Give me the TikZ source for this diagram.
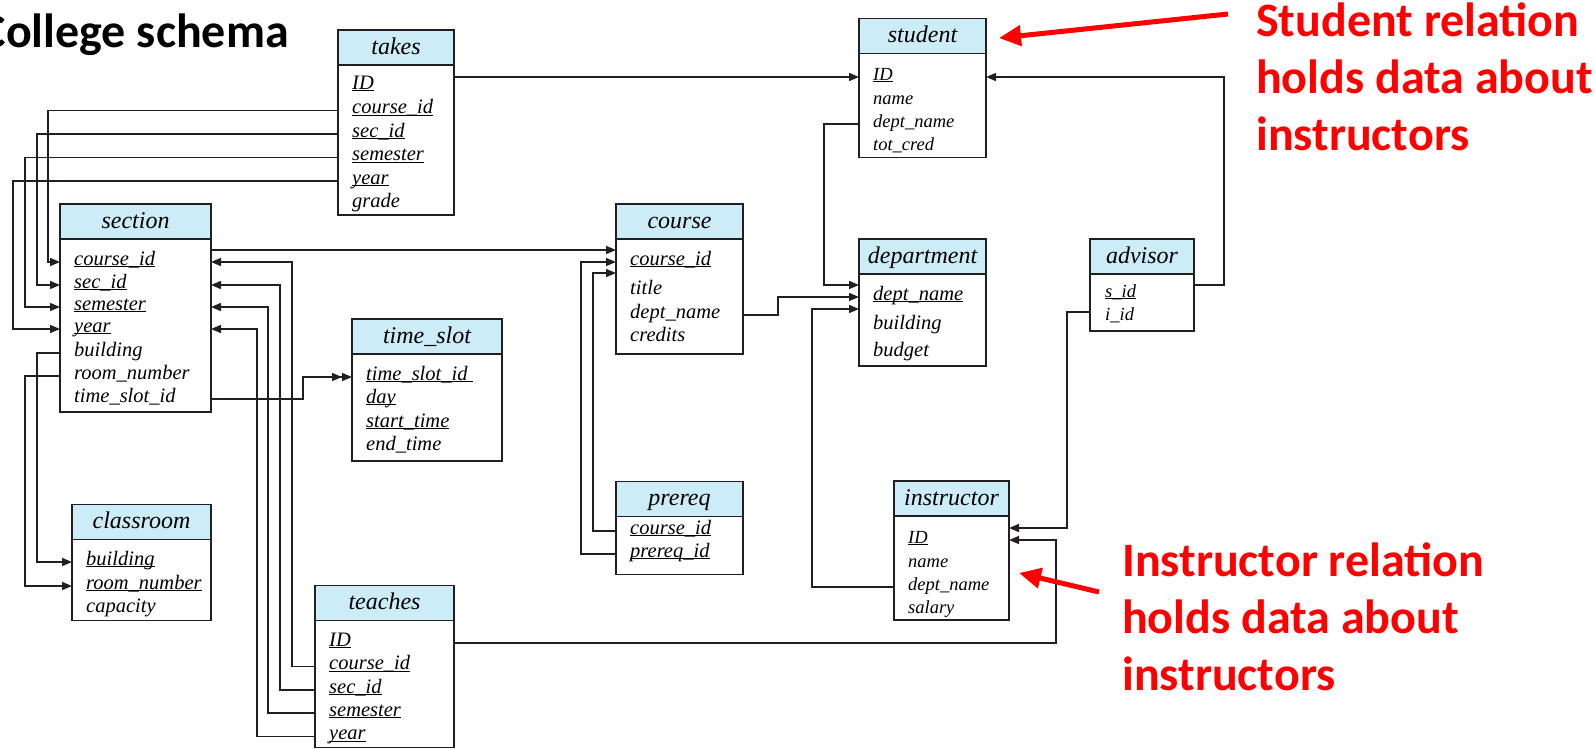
\documentclass[tikz,border=0pt]{standalone}
\usepackage{fontspec}
\setmainfont{Liberation Serif}
\newfontfamily\calibri{Carlito}
\usetikzlibrary{arrows.meta,positioning}
\definecolor{headblue}{RGB}{204,236,248}
\definecolor{boxline}{RGB}{35,31,32}
\newcommand\pk[1]{\underline{\smash{#1}}}

\begin{document}
\begin{tikzpicture}[x=1pt,y=-1pt]
\tikzset{
  relhead/.style={draw=boxline,line width=1.5pt,fill=headblue,minimum height=35pt,inner sep=0pt,outer sep=0pt,text height=17pt,text depth=4pt,font=\fontsize{24}{28}\selectfont\itshape},
  relbody/.style={draw=boxline,line width=1.5pt,inner sep=0pt,outer sep=0pt},
  attr/.style={anchor=west,inner sep=0pt,text height=6pt,text depth=0pt,font=\fontsize{20.5}{24}\selectfont\itshape},
  attrsmall/.style={attr,font=\fontsize{18.5}{22}\selectfont\itshape},
  fk/.style={draw=boxline,line width=1.4pt,-{Triangle[length=10pt,width=8pt]}},
  fkdouble/.style={fk,-{Triangle[length=10pt,width=8pt]Triangle[length=10pt,width=8pt]}},
  title/.style={anchor=base east,inner sep=0pt,font=\calibri\bfseries\fontsize{48}{56}\selectfont},
  note/.style={anchor=base west,inner sep=0pt,align=left,text=red,font=\calibri\bfseries\fontsize{48}{57}\selectfont},
  notearrow/.style={red,line width=5pt,-{Triangle[length=22pt,width=20pt]}}
}
\useasboundingbox (0,0) rectangle (1595,748);

\node[title] (title) at (289,47) {College schema};

% takes
\node[relhead,minimum width=116] (takes_h) at (396,47.5) {takes};
\node[relbody,minimum width=116,minimum height=150,below=0pt of takes_h] (takes) {};
\node[attr] (takes_ID) at (352,86) {\pk{ID}};
\node[attr] (takes_cid) at (352,110.5) {\pk{course\_id}};
\node[attr] (takes_sec) at (352,134) {\pk{sec\_id}};
\node[attr] (takes_sem) at (352,157.5) {\pk{semester}};
\node[attr] (takes_year) at (352,181) {\pk{year}};
\node[attr] (takes_grade) at (352,204.5) {grade};

% section
\node[relhead,minimum width=151] (section_h) at (135.5,221.5) {section};
\node[relbody,minimum width=151,minimum height=173,below=0pt of section_h] (section) {};
\node[attr] (section_cid) at (74,262) {\pk{course\_id}};
\node[attr] (section_sec) at (74,285) {\pk{sec\_id}};
\node[attr] (section_sem) at (74,307) {\pk{semester}};
\node[attr] (section_year) at (74,329) {\pk{year}};
\node[attr] (section_bldg) at (74,353) {building};
\node[attr] (section_room) at (74,376) {room\_number};
\node[attr] (section_tsid) at (74,399) {time\_slot\_id};

% time_slot
\node[relhead,minimum width=150] (timeslot_h) at (427,336.5) {time\_slot};
\node[relbody,minimum width=150,minimum height=107,below=0pt of timeslot_h] (timeslot) {};
\node[attr] (timeslot_tsid) at (366,377) {\pk{time\_slot\_id\ }};
\node[attr] (timeslot_day) at (366,400) {\pk{day}};
\node[attr] (timeslot_start) at (366,424) {\pk{start\_time}};
\node[attr] (timeslot_end) at (366,447) {end\_time};

% classroom
\node[relhead,minimum width=139] (classroom_h) at (141.5,522) {classroom};
\node[relbody,minimum width=139,minimum height=81,below=0pt of classroom_h] (classroom) {};
\node[attr] (classroom_bldg) at (86,562) {\pk{building}};
\node[attr] (classroom_room) at (86,586) {\pk{room\_number}};
\node[attr] (classroom_cap) at (86,609) {capacity};

% teaches
\node[relhead,minimum width=139] (teaches_h) at (384.5,603) {teaches};
\node[relbody,minimum width=139,minimum height=127,below=0pt of teaches_h] (teaches) {};
\node[attr] (teaches_ID) at (329,643) {\pk{ID}};
\node[attr] (teaches_cid) at (329,666.5) {\pk{course\_id}};
\node[attr] (teaches_sec) at (329,690) {\pk{sec\_id}};
\node[attr] (teaches_sem) at (329,713) {\pk{semester}};
\node[attr] (teaches_year) at (329,736.5) {\pk{year}};

% course
\node[relhead,minimum width=127] (course_h) at (679.5,221.5) {course};
\node[relbody,minimum width=127,minimum height=115,below=0pt of course_h] (course) {};
\node[attr] (course_cid) at (630,262) {\pk{course\_id}};
\node[attr] (course_title) at (630,291) {title};
\node[attr] (course_dept) at (630,315) {dept\_name};
\node[attr] (course_cred) at (630,338) {credits};

% prereq
\node[relhead,minimum width=127] (prereq_h) at (679.5,499) {prereq};
\node[relbody,minimum width=127,minimum height=58,below=0pt of prereq_h] (prereq) {};
\node[attr] (prereq_cid) at (630,531) {\pk{course\_id}};
\node[attr] (prereq_pid) at (630,554) {\pk{prereq\_id}};

% student
\node[relhead,minimum width=127] (student_h) at (922.5,36) {student};
\node[relbody,minimum width=127,minimum height=104,below=0pt of student_h] (student) {};
\node[attrsmall] (student_ID) at (873,77) {\pk{ID}};
\node[attrsmall] (student_name) at (873,101) {name};
\node[attrsmall] (student_dept) at (873,124) {dept\_name};
\node[attrsmall] (student_tot) at (873,147) {tot\_cred};

% department
\node[relhead,minimum width=127] (department_h) at (922.5,256.5) {department};
\node[relbody,minimum width=127,minimum height=92,below=0pt of department_h] (department) {};
\node[attr] (department_dept) at (873,297) {\pk{dept\_name}};
\node[attr] (department_bldg) at (873,326) {building};
\node[attr] (department_budget) at (873,353) {budget};

% advisor
\node[relhead,minimum width=104] (advisor_h) at (1142,256.5) {advisor};
\node[relbody,minimum width=104,minimum height=57,below=0pt of advisor_h] (advisor) {};
\node[attrsmall] (advisor_sid) at (1105,294) {\pk{s\_id}};
\node[attrsmall] (advisor_iid) at (1105,317) {i\_id};

% instructor
\node[relhead,minimum width=115] (instructor_h) at (951.5,498.5) {instructor};
\node[relbody,minimum width=115,minimum height=104,below=0pt of instructor_h] (instructor) {};
\node[attrsmall] (instructor_ID) at (908,540) {\pk{ID}};
\node[attrsmall] (instructor_name) at (908,564) {name};
\node[attrsmall] (instructor_dept) at (908,587) {dept\_name};
\node[attrsmall] (instructor_salary) at (908,610) {salary};

% foreign keys
\draw[fk] (takes_cid -| takes.west) -- ++(-290,0) |- (section_cid -| section.west);
\draw[fk] (takes_sec -| takes.west) -- ++(-301,0) |- (section_sec -| section.west);
\draw[fk] (takes_sem -| takes.west) -- ++(-313,0) |- (section_sem -| section.west);
\draw[fk] (takes_year -| takes.west) -- ++(-325,0) |- (section_year -| section.west);
\draw[fk] (takes.east |- student_ID) -- (student_ID -| student.west);
\draw[fk] ([yshift=12pt]section_cid -| section.east) -- ([yshift=12pt]course_cid -| course.west);
\draw[fkdouble] (section_tsid -| section.east) -- ++(92,0) |- (timeslot_tsid -| timeslot.west);
\draw[fk] (section_bldg -| section.west) -- ++(-23,0) |- (classroom_bldg -| classroom.west);
\draw[fk] (section_room -| section.west) -- ++(-35,0) |- (classroom_room -| classroom.west);
\draw[fk] (teaches_cid -| teaches.west) -- ++(-23,0) |- (section_cid -| section.east);
\draw[fk] (teaches_sec -| teaches.west) -- ++(-35,0) |- (section_sec -| section.east);
\draw[fk] (teaches_sem -| teaches.west) -- ++(-47,0) |- (section_sem -| section.east);
\draw[fk] (teaches_year -| teaches.west) -- ++(-58,0) |- (section_year -| section.east);
\draw[fk] (teaches_ID -| teaches.east) -- ++(602,0) |- (instructor_ID -| instructor.east);
\draw[fk] (prereq_cid -| prereq.west) -- ++(-23,0) |- ([yshift=-11pt]course_cid -| course.west);
\draw[fk] (prereq_pid -| prereq.west) -- ++(-35,0) |- (course_cid -| course.west);
\draw[fk] (course_dept -| course.east) -- ++(35,0) |- (department_dept -| department.west);
\draw[fk] (student_dept -| student.west) -- ++(-35,0) |- ([yshift=12pt]department_dept -| department.west);
\draw[fk] (instructor_dept -| instructor.west) -- ++(-82,0) |- ([yshift=-12pt]department_dept -| department.west);
\draw[fk] ([yshift=9pt]advisor_sid -| advisor.east) -- ++(30,0) |- (student_ID -| student.east);
\draw[fk] ([yshift=5pt]advisor_iid -| advisor.west) -- ++(-23,0) |- ([yshift=12pt]instructor_ID -| instructor.east);

% notes
\node[note] (student_note) at (1256,150) {Student relation\\holds data about\\instructors};
\node[note] (instructor_note) at (1122,690) {Instructor relation\\holds data about\\instructors};
\coordinate (student_tail) at (1228,14);
\coordinate (instructor_tail) at (1099,592);
\draw[notearrow] (student_tail) -- ([xshift=13pt,yshift=-2pt]student_h.east);
\draw[notearrow] (instructor_tail) -- ([xshift=10pt,yshift=-5pt]instructor.east);
\end{tikzpicture}
\end{document}
